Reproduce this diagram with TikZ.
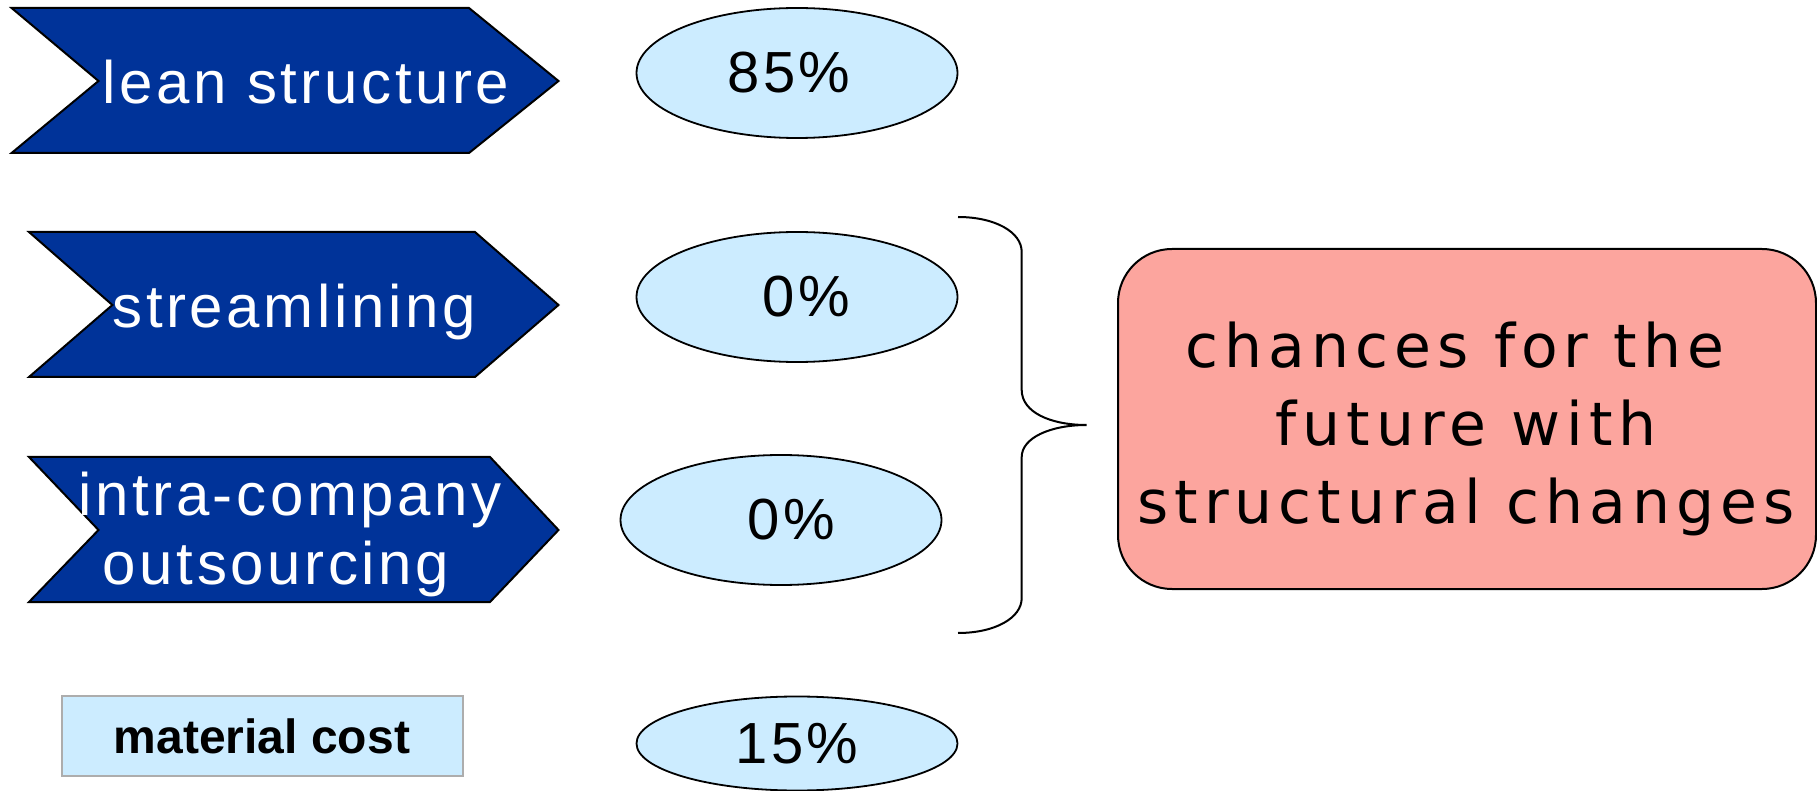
\documentclass[tikz,border=0pt]{standalone}
\usepackage{fontspec}
\setmainfont{Liberation Sans}
\newfontfamily\widefont[LetterSpace=10]{DejaVu Sans}
\newfontfamily\chevfont[LetterSpace=6]{Liberation Sans}
\newfontfamily\pctfont[LetterSpace=6]{Liberation Sans}
\usetikzlibrary{shapes.geometric}
\definecolor{chevblue}{HTML}{003399}
\definecolor{paleblue}{HTML}{CCECFF}
\definecolor{salmon}{RGB}{252,165,158}
\tikzset{
  chevron/.style={draw=black, line width=1pt, fill=chevblue, line join=miter},
  chevtext/.style={text=white, font=\chevfont\fontsize{30}{34.5}\selectfont, inner sep=0pt},
  pctbox/.style={ellipse, draw=black, line width=0.9pt, fill=paleblue,
    minimum width=160.5pt, minimum height=65pt, inner sep=0pt,
    font=\pctfont\fontsize{29}{32}\selectfont},
  matbox/.style={draw=black!32, line width=1pt, fill=paleblue, minimum width=200.5pt,
    minimum height=40pt, inner sep=0pt, font=\bfseries\fontsize{24}{28}\selectfont},
  chancebox/.style={draw=black, line width=1pt, fill=salmon, rounded corners=27pt,
    minimum width=349pt, minimum height=170pt, inner sep=0pt},
  chancetext/.style={align=center, inner sep=0pt, font=\widefont\fontsize{30}{38.8}\selectfont},
  bracket/.style={draw=black, line width=1pt}
}
\begin{document}
\begin{tikzpicture}[x=0.5pt, y=-0.5pt]
\useasboundingbox (0,0) rectangle (1817,791);

% arrow-shaped labels on the left
\draw[chevron] (11.6,8) -- (469,8) -- (558.5,81) -- (469,153) -- (11.6,153) -- (98.5,81) -- cycle;
\draw[chevron] (29,232) -- (475,232) -- (558.5,305) -- (475,377) -- (29,377) -- (112.4,305) -- cycle;
\draw[chevron] (29,457) -- (490,457) -- (558.5,530) -- (490,602) -- (29,602) -- (98.5,530) -- cycle;

\node[chevtext, anchor=base] (lean) at (306,104) {lean structure};
\node[chevtext, anchor=base] (stream) at (294,328) {streamlining};
\node[chevtext, align=center] (intra) at (290,534) {intra-company\\outsourcing\hspace*{14pt}};

% shares
\node[pctbox] (p1) at (797,73) {85\%\hspace*{8pt}};
\node[pctbox] (p2) at (797,297) {\hspace*{9.6pt}0\%};
\node[pctbox] (p3) at (781,520) {\hspace*{10pt}0\%};
\node[pctbox, minimum height=47pt] (p4) at (797,743.5) {15\%};

% material cost label
\node[matbox] (mat) at (262,736) {material cost};

% brace grouping the three structural items
\coordinate (btop) at (958,217);
\coordinate (btip) at (1086.7,425);
\coordinate (bbot) at (958,633);
\draw[bracket] (btop) .. controls (995,217) and (1021.7,232) .. (1021.7,252)
  -- (1021.7,390) .. controls (1021.7,412) and (1050,425) .. (btip)
  .. controls (1050,425) and (1021.7,438) .. (1021.7,457)
  -- (1021.7,598) .. controls (1021.7,618) and (995,633) .. (bbot);

% result box
\node[chancebox] (chances) at (1467,419) {};
\node[chancetext] (chancestxt) at (1466,429) {chances for the\hspace*{11pt}\\future with\\structural changes};
\end{tikzpicture}
\end{document}
